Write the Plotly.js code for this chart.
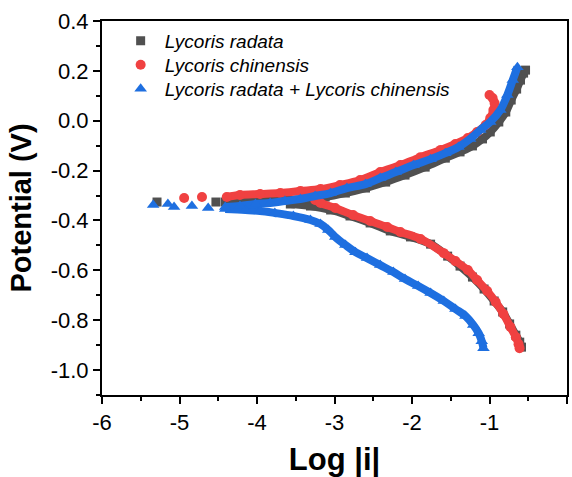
<!DOCTYPE html>
<html>
<head>
<meta charset="utf-8">
<script src="https://cdn.plot.ly/plotly-3.0.1.min.js"></script>
<style>html,body{margin:0;padding:0;background:#fff;}#chart{width:572px;height:477px;}</style>
</head>
<body>
<div id="chart"></div>
<script>
// Series names
var seriesNames = ["Lycoris radata", "Lycoris chinensis", "Lycoris radata + Lycoris chinensis"];

// Tick labels
var xTickVals = [-6, -5, -4, -3, -2, -1, 0];
var xTickText = ["-6", "-5", "-4", "-3", "-2", "-1", "0"];
var yTickVals = [0.4, 0.2, 0.0, -0.2, -0.4, -0.6, -0.8, -1.0];
var yTickText = ["0.4", "0.2", "0.0", "-0.2", "-0.4", "-0.6", "-0.8", "-1.0"];

// Lycoris radata (squares)
var radataSparseX = [-5.29, -4.53];
var radataSparseY = [-0.326, -0.326];
var radataAnodicX = [-4.41, -4.15, -3.89, -3.64, -3.38, -3.12, -2.86, -2.60, -2.34, -2.09, -1.83, -1.57, -1.38, -1.22, -1.09, -0.99, -0.88, -0.79, -0.72, -0.65, -0.60, -0.56, -0.535];
var radataAnodicY = [-0.326, -0.326, -0.322, -0.318, -0.314, -0.306, -0.290, -0.270, -0.246, -0.218, -0.186, -0.150, -0.125, -0.101, -0.073, -0.045, -0.005, 0.035, 0.083, 0.127, 0.163, 0.191, 0.203];
var radataCathodicX = [-3.57, -3.31, -3.05, -2.80, -2.54, -2.28, -2.02, -1.76, -1.54, -1.38, -1.22, -1.07, -0.94, -0.83, -0.74, -0.66, -0.61, -0.587];
var radataCathodicY = [-0.334, -0.342, -0.358, -0.382, -0.410, -0.442, -0.466, -0.495, -0.543, -0.583, -0.627, -0.675, -0.723, -0.767, -0.815, -0.860, -0.888, -0.908];

// Lycoris chinensis (circles)
var chinSparseX = [-4.94, -4.71];
var chinSparseY = [-0.310, -0.306];
var chinAnodicX = [-4.39, -4.22, -3.96, -3.70, -3.44, -3.18, -2.93, -2.67, -2.41, -2.15, -1.89, -1.63, -1.44, -1.28, -1.16, -1.05, -0.99, -0.95, -0.935, -0.96, -1.00];
var chinAnodicY = [-0.306, -0.298, -0.294, -0.290, -0.282, -0.274, -0.258, -0.238, -0.206, -0.178, -0.146, -0.117, -0.093, -0.069, -0.045, -0.017, 0.011, 0.043, 0.071, 0.091, 0.103];
var chinCathodicX = [-3.25, -3.18, -2.99, -2.76, -2.54, -2.32, -2.15, -1.89, -1.59, -1.44, -1.28, -1.16, -1.03, -0.92, -0.82, -0.73, -0.66, -0.625, -0.612];
var chinCathodicY = [-0.318, -0.330, -0.350, -0.378, -0.402, -0.426, -0.446, -0.474, -0.531, -0.563, -0.599, -0.639, -0.683, -0.727, -0.775, -0.827, -0.868, -0.896, -0.912];

// Lycoris radata + Lycoris chinensis (triangles)
var mixSparseX = [-5.34, -5.15, -5.07, -4.84, -4.63];
var mixSparseY = [-0.338, -0.334, -0.346, -0.342, -0.350];
var mixAnodicX = [-4.41, -4.22, -4.02, -3.83, -3.64, -3.44, -3.25, -3.05, -2.84, -2.60, -2.41, -2.21, -1.98, -1.76, -1.57, -1.40, -1.25, -1.12, -0.99, -0.86, -0.77, -0.70, -0.64];
var mixAnodicY = [-0.346, -0.342, -0.334, -0.330, -0.322, -0.314, -0.302, -0.290, -0.270, -0.254, -0.230, -0.206, -0.178, -0.154, -0.130, -0.105, -0.073, -0.037, -0.005, 0.043, 0.103, 0.163, 0.215];
var mixCathodicX = [-4.41, -4.15, -3.96, -3.77, -3.53, -3.31, -3.18, -3.08, -2.99, -2.86, -2.73, -2.58, -2.41, -2.24, -2.09, -1.92, -1.76, -1.59, -1.44, -1.31, -1.21, -1.14, -1.10, -1.078];
var mixCathodicY = [-0.354, -0.358, -0.362, -0.370, -0.382, -0.398, -0.414, -0.438, -0.466, -0.498, -0.527, -0.551, -0.579, -0.607, -0.635, -0.663, -0.691, -0.723, -0.755, -0.783, -0.819, -0.852, -0.884, -0.912];

var colors = ["#505050", "#f04141", "#1e6fe0"];
var symbols = ["square", "circle", "triangle-up"];
var sizes = [9, 10, 11];
var legendIds = ["legend", "legend2", "legend3"];

function bandTrace(cx, cy, ax, ay, color) {
  return {
    x: cx.concat([null]).concat(ax),
    y: cy.concat([null]).concat(ay),
    mode: "lines", type: "scatter", showlegend: false, hoverinfo: "skip",
    line: {color: color, width: 8, shape: "spline"}
  };
}
function markTrace(name, sx, sy, cx, cy, ax, ay, i) {
  return {
    x: sx.concat(cx).concat(ax),
    y: sy.concat(cy).concat(ay),
    name: name, mode: "markers", type: "scatter", legend: legendIds[i],
    marker: {symbol: symbols[i], size: sizes[i], color: colors[i]}
  };
}

var data = [
  bandTrace(radataCathodicX, radataCathodicY, radataAnodicX, radataAnodicY, colors[0]),
  markTrace(seriesNames[0], radataSparseX, radataSparseY, radataCathodicX, radataCathodicY, radataAnodicX, radataAnodicY, 0),
  bandTrace(chinCathodicX, chinCathodicY, chinAnodicX, chinAnodicY, colors[1]),
  markTrace(seriesNames[1], chinSparseX, chinSparseY, chinCathodicX, chinCathodicY, chinAnodicX, chinAnodicY, 1),
  bandTrace(mixCathodicX, mixCathodicY, mixAnodicX, mixAnodicY, colors[2]),
  markTrace(seriesNames[2], mixSparseX, mixSparseY, mixCathodicX, mixCathodicY, mixAnodicX, mixAnodicY, 2)
];

var FONT = "Arial, Liberation Sans, sans-serif";
var axisFont = {family: FONT, size: 22, color: "#000"};
function legendAt(y) {
  return {
    x: 0.0315, y: y, xanchor: "left", yanchor: "middle",
    bgcolor: "rgba(0,0,0,0)", borderwidth: 0,
    font: {family: FONT, size: 19, color: "#000", style: "italic"},
    itemwidth: 38
  };
}
var layout = {
  width: 572, height: 477,
  margin: {l: 102, r: 5, t: 21, b: 82},
  paper_bgcolor: "#fff", plot_bgcolor: "#fff",
  showlegend: true,
  legend: legendAt(0.9465),
  legend2: legendAt(0.8824),
  legend3: legendAt(0.8182),
  xaxis: {
    range: [-6, 0], tickmode: "array", tickvals: xTickVals, ticktext: xTickText,
    showgrid: false, zeroline: false,
    showline: true, linecolor: "#000", linewidth: 2, mirror: true,
    ticks: "outside", ticklen: 7, tickwidth: 2, tickcolor: "#000",
    minor: {tickmode: "linear", tick0: 0, dtick: 0.5, ticks: "outside", ticklen: 4, tickwidth: 2, tickcolor: "#000", showgrid: false},
    tickfont: axisFont,
    title: {text: "<b>Log |i|</b>", font: {family: FONT, size: 31, color: "#000"}, standoff: 16}
  },
  yaxis: {
    range: [-1.1, 0.4], tickmode: "array", tickvals: yTickVals, ticktext: yTickText,
    showgrid: false, zeroline: false,
    showline: true, linecolor: "#000", linewidth: 2, mirror: true,
    ticks: "outside", ticklen: 7, tickwidth: 2, tickcolor: "#000",
    minor: {tickmode: "linear", tick0: 0, dtick: 0.1, ticks: "outside", ticklen: 4, tickwidth: 2, tickcolor: "#000", showgrid: false},
    tickfont: axisFont,
    title: {text: "<b>Potential (V)</b>", font: {family: FONT, size: 29, color: "#000"}, standoff: 11}
  }
};

Plotly.newPlot("chart", data, layout, {displayModeBar: false, staticPlot: true});
</script>
</body>
</html>
